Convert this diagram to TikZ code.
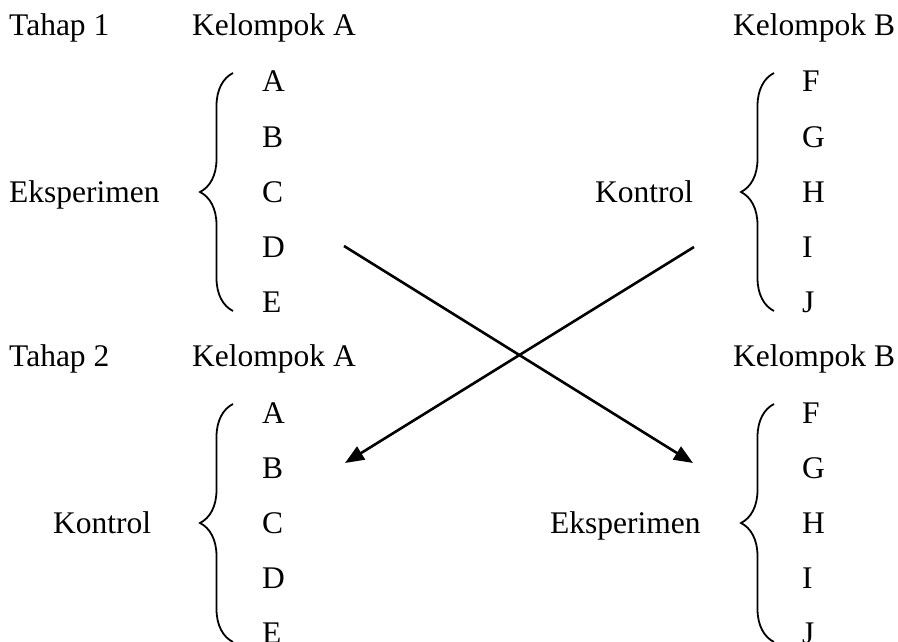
\documentclass[tikz,border=0pt]{standalone}
\usepackage{fontspec}
\setmainfont{Liberation Serif}
\usetikzlibrary{arrows.meta,decorations.pathreplacing,positioning,calc}

\begin{document}
\begin{tikzpicture}[x=1pt,y=-1pt,
        txt/.style={inner sep=0pt,anchor=base west,font=\fontsize{31.5}{37}\selectfont},
        brc/.style={decorate,decoration={brace,amplitude=33pt},line width=1.8pt},
        arr/.style={-{Triangle[length=19pt,width=15pt]},line width=2.6pt}]
        \useasboundingbox[fill=white] (0,0) rectangle (898,642);
        % titles
        \node[txt] (tahap1) at (9,36) {Tahap 1};
        \node[txt] (kelA1) at (192,36) {Kelompok A};
        \node[txt] (kelB1) at (733,36) {Kelompok B};
        \node[txt] (tahap2) at (9,366) {Tahap 2};
        \node[txt] (kelA2) at (192,366) {Kelompok A};
        \node[txt] (kelB2) at (733,366) {Kelompok B};
        % members
        \foreach \l [count=\i] in {A,B,C,D,E} {
          \node[txt] (a1\l) at (262,{37+55*\i}) {\l};
          \node[txt] (a2\l) at (262,{368+55*\i}) {\l};
        }
        \foreach \l [count=\i] in {F,G,H,I,J} {
          \node[txt] (b1\l) at (802,{37+55*\i}) {\l};
          \node[txt] (b2\l) at (802,{368+55*\i}) {\l};
        }
        % treatments
        \node[txt] (eks1) at (9,202) {Eksperimen};
        \node[txt] (kon1) at (595,202) {Kontrol};
        \node[txt] (kon2) at (53,533) {Kontrol};
        \node[txt] (eks2) at (550,533) {Eksperimen};
        % braces
        \draw[brc] ($(a1E.base west)+(-29,-1)$) -- ($(a1A.base west)+(-29,-19)$);
        \draw[brc] ($(b1J.base west)+(-28,-1)$) -- ($(b1F.base west)+(-28,-19)$);
        \draw[brc] ($(a2E.base west)+(-29,-1)$) -- ($(a2A.base west)+(-29,-19)$);
        \draw[brc] ($(b2J.base west)+(-28,-1)$) -- ($(b2F.base west)+(-28,-19)$);
        % swap
        \coordinate (fromA) at (344,246);
        \coordinate (toB) at (693,463);
        \coordinate (fromB) at (694,247);
        \coordinate (toA) at (345,463);
        \draw[arr] (fromA) -- (toB);
        \draw[arr] (fromB) -- (toA);
\end{tikzpicture}
\end{document}
